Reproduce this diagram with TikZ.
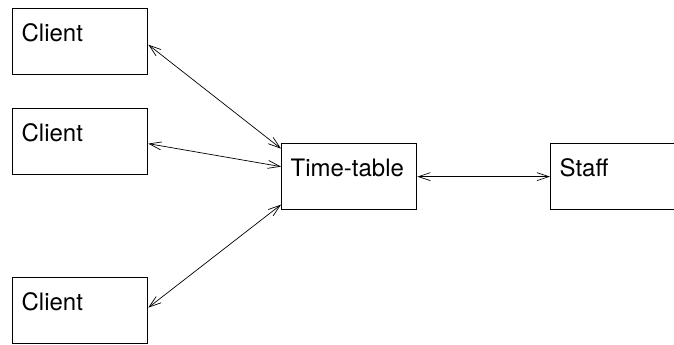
\documentclass[tikz,border=0pt]{standalone}
\usepackage{fontspec}
\setmainfont{TeX Gyre Heros}
\usetikzlibrary{arrows.meta}
\begin{document}
\begin{tikzpicture}[x=1pt,y=-1pt,
  box/.style={draw, line width=1.3pt, anchor=north west, align=left,
    text width=117pt, inner xsep=9pt, inner ysep=0pt,
    text height=33pt, text depth=33pt,
    font=\fontsize{24}{28}\selectfont},
  link/.style={line width=0.7pt,
    {Straight Barb[length=12pt,width=8pt]}-{Straight Barb[length=12pt,width=8pt]}}]
  \useasboundingbox (0,0) rectangle (674,345);
  \begin{scope}
    \clip (0,0) rectangle (674,345);
    \node[box] (c1) at (12,8) {Client};
    \node[box] (c2) at (12,108) {Client};
    \node[box] (c3) at (12,277) {Client};
    \node[box] (tt) at (281,143) {Time-table};
    \node[box] (st) at (550,143) {Staff};
  \end{scope}
  \draw[link] ([yshift=-3pt]c1.east) -- ([yshift=28pt]tt.west);
  \draw[link] ([yshift=-2pt]c2.east) -- ([yshift=10pt]tt.west);
  \draw[link] ([yshift=3pt]c3.east) -- ([yshift=-28pt]tt.west);
  \draw[link] (tt.east) -- (st.west);
\end{tikzpicture}
\end{document}
